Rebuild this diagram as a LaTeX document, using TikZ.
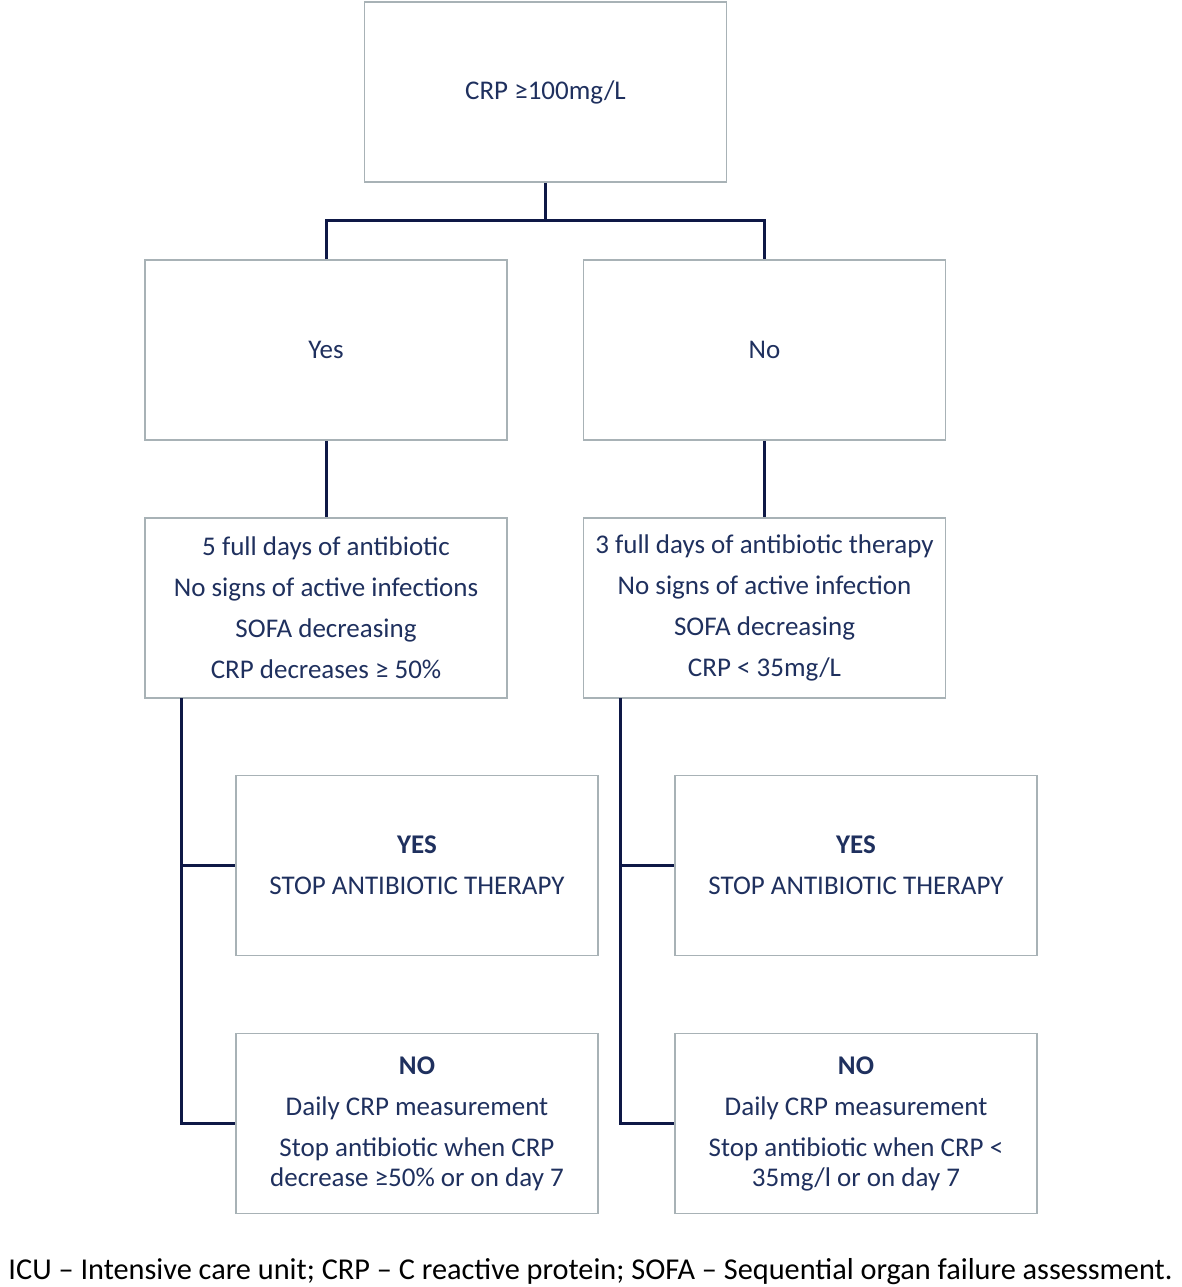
\documentclass[tikz,border=0pt]{standalone}
\usepackage{fontspec}
\setmainfont{Carlito}
\definecolor{navy}{RGB}{31,48,94}
\definecolor{wire}{RGB}{14,24,70}
\definecolor{rim}{RGB}{168,178,182}
\tikzset{
  box/.style={shape=rectangle,draw=rim,line width=1.5pt,minimum width=362pt,
    minimum height=180pt,align=center,text=navy,
    font=\fontsize{27}{30}\selectfont},
  wired/.style={draw=wire,line width=3pt}
}
\begin{document}
\begin{tikzpicture}[x=1pt,y=-1pt]
  \useasboundingbox (0,0) rectangle (1181,1287);

  \node (top) at (545.5,92) [box] {CRP ≥100mg/L};
  \node (yes) at (326,350) [box] {Yes};
  \node (no) at (764.5,350) [box] {No};
  \node (crityes) at (326,608) [box] {5 full days of antibiotic\\[11pt]
    No signs of active infections\\[11pt] SOFA decreasing\\[11pt] CRP decreases ≥ 50\%};
  \node (critno) at (764.5,608) [box] {3 full days of antibiotic therapy\\[11pt]
    No signs of active infection\\[11pt] SOFA decreasing\\[11pt] CRP < 35mg/L};
  \node (stopyes) at (417,865.5) [box] {\textbf{YES}\\[11pt] STOP ANTIBIOTIC THERAPY};
  \node (stopno) at (856,865.5) [box] {\textbf{YES}\\[11pt] STOP ANTIBIOTIC THERAPY};
  \node (contyes) at (417,1123.5) [box] {\textbf{NO}\\[11pt] Daily CRP measurement\\[11pt]
    Stop antibiotic when CRP\\ decrease ≥50\% or on day 7};
  \node (contno) at (856,1123.5) [box] {\textbf{NO}\\[11pt] Daily CRP measurement\\[11pt]
    Stop antibiotic when CRP <\\ 35mg/l or on day 7};

  \coordinate (split) at (545.5,220);
  \coordinate (lspine) at (181,698);
  \coordinate (rspine) at (620,698);

  \draw [wired] (top.south) -- (split);
  \draw [wired] (yes.north) |- (split) -| (no.north);
  \draw [wired] (yes) -- (crityes);
  \draw [wired] (no) -- (critno);
  \draw [wired] (lspine) |- (contyes.west);
  \draw [wired] (lspine |- stopyes.west) -- (stopyes.west);
  \draw [wired] (rspine) |- (contno.west);
  \draw [wired] (rspine |- stopno.west) -- (stopno.west);

  \node (legend) at (590.5,1272) [inner sep=0pt,font=\fontsize{30.3}{34}\selectfont]
    {ICU – Intensive care unit; CRP – C reactive protein; SOFA – Sequential organ failure assessment.};

\end{tikzpicture}
\end{document}
